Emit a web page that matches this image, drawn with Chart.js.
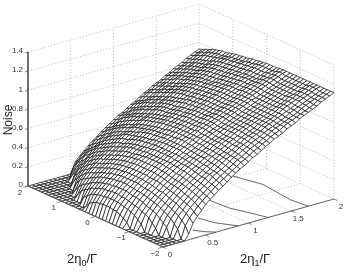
<!DOCTYPE html>
<html>
<head>
<meta charset="utf-8">
<script src="https://cdn.jsdelivr.net/npm/chart.js@4/dist/chart.umd.min.js"></script>
<style>
  html, body { margin: 0; padding: 0; background: #fff; }
  canvas { display: block; }
</style>
</head>
<body>
<canvas id="plot" width="346" height="275"></canvas>
<script>
// values
const zTicks = [0, 0.2, 0.4, 0.6, 0.8, 1, 1.2, 1.4]
const eta0Ticks = [2, 1, 0, -1, -2]
const eta1Ticks = [0, 0.5, 1, 1.5, 2]
const eta0Rows = [2,1.9,1.8,1.7,1.6,1.5,1.4,1.3,1.2,1.1,1,.9,.8,.7,.6,.5,.4,.3,.2,.1,0,-.1,-.2,-.3,-.4,-.5,-.6,-.7,-.8,-.9,-1,-1.1,-1.2,-1.3,-1.4,-1.5,-1.6,-1.7,-1.8,-1.9,-2]
const eta1Cols = [0,.05,.1,.15,.2,.25,.3,.35,.4,.45,.5,.55,.6,.65,.7,.75,.8,.85,.9,.95,1,1.05,1.1,1.15,1.2,1.25,1.3,1.35,1.4,1.45,1.5,1.55,1.6,1.65,1.7,1.75,1.8,1.85,1.9,1.95,2]
// noise x100, one line for each eta0
const noiseRows = [
[0,0,0,0,0,0,0,0,0,0,0,11,16,20,24,28,31,35,38,41,44,47,49,52,55,57,60,63,65,68,70,72,75,77,80,82,84,87,89,91,93],
[0,0,0,0,0,0,0,0,0,0,10,15,20,23,27,31,34,37,40,43,46,49,51,54,57,59,62,65,67,70,72,74,77,79,81,83,85,88,90,92,94],
[0,0,0,0,0,0,0,0,0,8,15,19,23,26,30,33,36,40,42,45,48,51,53,56,59,61,64,67,69,71,73,76,78,80,83,85,87,89,92,94,96],
[0,0,0,0,0,0,0,0,6,13,18,23,26,29,32,36,39,42,45,48,51,53,56,58,61,63,65,68,70,73,75,77,80,82,84,86,88,91,93,95,97],
[0,0,0,0,0,0,0,0,11,17,21,25,29,32,35,38,41,45,47,50,53,55,58,60,63,65,67,70,72,74,76,79,81,83,86,88,90,92,95,97,99],
[0,0,0,0,0,0,0,10,16,20,25,28,32,35,38,41,44,47,49,52,55,57,60,62,65,67,69,72,74,76,78,81,83,85,87,89,91,93,96,98,100],
[0,0,0,0,0,0,7,14,19,24,27,31,34,37,40,43,46,49,51,54,57,59,62,64,66,68,70,73,75,77,79,82,84,86,88,90,92,94,97,99,101],
[0,0,0,0,0,0,12,18,22,26,30,33,36,39,42,45,48,51,53,56,58,60,63,65,68,70,72,75,77,79,81,83,85,87,89,91,93,95,98,100,102],
[0,0,0,0,0,9,16,21,25,29,32,35,38,41,44,47,49,52,54,57,60,62,65,67,69,71,73,76,78,80,82,85,87,89,91,93,95,97,99,100,102],
[0,0,0,0,5,14,19,23,27,31,34,37,40,43,46,49,51,54,56,59,61,63,66,68,71,73,75,78,80,82,84,86,88,90,92,94,96,98,100,101,103],
[0,0,0,0,10,17,22,26,30,33,36,39,42,45,48,51,53,56,58,61,63,65,68,70,72,74,76,79,81,83,85,87,89,91,93,95,97,99,101,102,104],
[0,0,0,5,14,19,24,28,31,34,37,40,43,46,49,52,54,57,59,62,64,66,69,71,73,75,77,80,82,84,86,88,90,92,94,96,98,100,102,103,105],
[0,0,0,10,16,21,25,29,32,36,39,42,45,47,50,53,55,58,60,63,65,67,70,72,74,76,78,81,83,85,87,89,90,92,94,96,98,100,102,103,105],
[0,0,0,13,18,23,27,31,34,37,40,43,46,49,52,54,57,59,61,64,66,68,70,72,74,77,79,81,83,85,87,89,91,93,95,97,99,101,103,104,106],
[0,0,8,15,21,25,29,32,36,39,42,45,48,50,53,55,58,60,62,65,67,69,71,73,75,78,80,82,84,86,88,90,91,93,95,97,99,101,103,104,106],
[0,0,11,18,22,27,30,34,37,40,43,46,49,51,54,56,59,61,63,66,68,70,72,74,76,79,81,83,85,87,89,91,92,94,96,98,100,102,104,105,107],
[0,3,14,19,24,28,31,35,38,41,44,47,50,52,55,57,60,62,64,67,69,71,73,75,77,79,81,83,85,87,89,91,93,95,97,99,100,102,104,106,108],
[0,8,16,21,25,29,33,36,39,42,45,47,50,52,55,57,60,62,64,67,69,71,73,75,77,80,82,84,86,88,90,92,93,95,97,99,101,103,105,106,108],
[0,10,17,22,26,30,33,37,40,43,46,48,51,53,56,58,61,63,65,68,70,72,74,76,78,80,82,84,86,88,90,92,94,96,98,100,101,103,105,107,109],
[0,12,18,23,27,31,34,37,40,43,46,49,51,54,56,59,61,63,66,68,70,72,75,77,79,81,83,85,87,89,91,93,95,96,98,100,102,104,106,108,109],
[0,12,18,23,27,31,35,38,41,44,47,49,52,54,57,59,62,64,66,69,71,73,75,77,79,81,83,85,87,89,91,93,95,97,99,101,102,104,106,108,110],
[0,13,19,24,28,32,35,38,41,44,47,50,52,55,57,60,62,64,67,69,71,73,75,77,79,81,83,85,87,89,91,93,95,97,99,101,102,104,106,108,110],
[0,13,19,24,28,32,35,38,41,44,47,50,52,55,57,60,62,64,67,69,71,73,75,77,79,81,83,85,87,89,91,93,95,97,99,101,102,104,106,108,110],
[0,13,19,24,28,32,35,38,41,44,47,50,52,55,57,60,62,65,67,69,71,73,75,78,80,81,83,85,87,89,91,93,96,98,100,101,103,105,107,108,110],
[0,12,19,23,28,31,35,38,41,44,47,50,52,55,57,60,62,65,67,69,71,74,76,78,80,82,84,86,88,90,92,94,96,98,100,102,104,105,107,109,111],
[0,12,18,23,27,31,35,38,41,44,47,50,52,55,57,60,62,65,67,69,72,74,76,78,80,82,84,86,88,90,92,94,96,98,100,102,104,106,108,110,111],
[0,10,17,22,26,30,34,37,40,44,47,50,52,55,57,60,62,64,67,69,71,74,76,78,80,82,84,86,88,90,92,94,96,98,100,102,104,106,108,110,111],
[0,8,16,21,26,30,33,37,40,43,46,49,52,54,57,59,62,64,66,69,71,73,75,77,79,82,84,86,88,90,92,94,95,97,99,101,103,105,107,109,111],
[0,5,15,20,25,29,33,36,40,43,46,49,51,54,56,59,61,63,66,68,71,73,75,77,79,81,83,85,87,89,91,93,95,97,99,101,103,105,107,109,111],
[0,0,13,19,24,28,32,35,39,42,45,48,51,53,56,58,61,63,66,68,70,72,75,77,79,81,83,85,87,89,91,93,95,97,99,101,103,105,107,109,111],
[0,0,10,17,22,27,31,34,38,41,44,47,50,53,55,58,60,63,65,68,70,72,74,77,79,81,83,85,87,89,91,93,95,97,99,101,103,105,107,109,111],
[0,0,7,16,21,26,30,34,37,40,43,47,50,53,55,58,60,63,65,68,70,72,74,77,79,81,83,85,87,89,91,93,95,97,99,101,103,105,107,109,111],
[0,0,0,14,20,25,29,33,36,40,43,46,49,52,54,57,60,62,65,67,70,72,74,77,79,81,83,85,87,89,91,93,95,97,99,101,103,105,107,109,111],
[0,0,0,10,18,23,27,31,35,39,42,45,48,51,54,56,59,62,64,67,69,72,74,76,79,81,83,85,87,89,91,93,95,97,99,102,103,105,107,109,111],
[0,0,0,6,15,21,26,30,34,38,41,44,47,50,53,56,58,61,64,66,69,71,73,76,78,80,82,85,87,89,91,93,96,98,100,102,104,106,108,110,111],
[0,0,0,0,12,19,24,29,33,36,40,43,46,49,52,55,58,61,63,66,68,71,73,76,78,80,82,85,87,89,91,93,96,98,100,102,104,106,108,110,111],
[0,0,0,0,9,17,22,27,31,35,39,42,45,49,52,54,57,60,63,65,68,71,73,75,78,80,82,85,87,89,91,93,95,97,99,102,104,106,108,110,111],
[0,0,0,0,0,13,20,25,30,34,37,41,44,47,51,54,56,59,62,65,67,70,72,75,77,79,82,84,86,88,90,92,95,97,99,101,103,105,107,109,111],
[0,0,0,0,0,9,17,23,28,32,36,39,43,46,49,52,55,58,61,64,66,69,72,74,76,79,81,84,86,88,90,92,94,96,99,101,103,105,107,109,111],
[0,0,0,0,0,0,13,20,25,30,34,38,41,45,48,51,54,57,60,63,65,68,71,73,76,78,81,83,85,88,90,92,94,96,98,100,102,105,107,109,111],
[0,0,0,0,0,0,6,16,22,27,32,36,39,43,46,49,53,56,59,61,64,67,69,72,75,77,80,82,84,87,89,91,94,96,98,100,102,105,107,109,111]
]
// the four curves right of the surface: eta1 and noise along the eta0 = -2 wall
const curveEta1 = [
  [0.79, 1.17, 1.49, 1.70],
  [0.53, 0.78, 1.02, 1.23],
  [0.41, 0.61, 0.88],
  [0.35, 0.48, 0.62]
]
const curveNoise = [
  [0.55, 0.36, 0.12, 0],
  [0.36, 0.21, 0.10, 0],
  [0.20, 0.10, 0],
  [0.09, 0.04, 0]
]

const proj = (eta0, eta1, z) => ({
    x: 163 + 85.5 * eta1 - 33.75 * (eta0 + 2),
    y: 247 - 24 * eta1 - 15.25 * (eta0 + 2) - 95.7 * z
})

const line = (pts, color, width, dash) => ({
    data: pts, showLine: true, pointRadius: 0, borderColor: color,
    borderWidth: width, borderDash: dash || [], fill: false, tension: 0
})

// drawn back to front, Chart.js wants that list reversed
let sets = []
const gridCol = '#a8a8a8'
const dots = [1, 2]

zTicks.forEach(z => {
    if (z == 0) return
    sets.push(line([proj(2, 0, z), proj(2, 2, z), proj(-2, 2, z)], gridCol, 0.8, dots))
})
eta1Ticks.forEach(e => {
    if (e > 0) sets.push(line([proj(-2, e, 0), proj(2, e, 0), proj(2, e, 1.4)], gridCol, 0.8, dots))
})
eta0Ticks.forEach(a => {
    if (a < 2) sets.push(line([proj(a, 0, 0), proj(a, 2, 0), proj(a, 2, 1.4)], gridCol, 0.8, dots))
})

curveEta1.forEach((c, i) => {
    sets.push(line(c.map((e, k) => proj(-2, e, curveNoise[i][k])), '#555', 0.9))
})

// mesh, one filled quad per cell
for (let r = 0; r < eta0Rows.length - 1; r++) {
    for (let c = eta1Cols.length - 2; c >= 0; c--) {
        const a0 = eta0Rows[r], a1 = eta0Rows[r + 1], e0 = eta1Cols[c], e1 = eta1Cols[c + 1]
        const q = [
            proj(a0, e0, noiseRows[r][c] / 100),
            proj(a0, e1, noiseRows[r][c + 1] / 100),
            proj(a1, e1, noiseRows[r + 1][c + 1] / 100),
            proj(a1, e0, noiseRows[r + 1][c] / 100)
        ]
        q.push(q[0])
        const ds = line(q, '#111', 0.7)
        ds.fill = 'shape'
        ds.backgroundColor = '#fff'
        sets.push(ds)
    }
}

// box axes
sets.push(line([proj(2, 0, 1.4), proj(2, 0, 0), proj(-2, 0, 0), proj(-2, 2, 0)], '#555', 0.9))
zTicks.forEach(z => {
    const p = proj(2, 0, z)
    sets.push(line([p, { x: p.x - 3, y: p.y + 0.8 }], '#555', 0.7))
})
eta0Ticks.forEach(a => {
    const p = proj(a, 0, 0)
    sets.push(line([p, { x: p.x - 5, y: p.y + 1.4 }], '#555', 0.7))
})
eta1Ticks.forEach(e => {
    const p = proj(-2, e, 0)
    sets.push(line([p, { x: p.x + 3.4, y: p.y + 1.5 }], '#555', 0.7))
})

const labels = {
    id: 'labels',
    afterDraw(chart) {
        const ctx = chart.ctx
        ctx.save()
        ctx.fillStyle = '#333'
        ctx.textBaseline = 'middle'
        ctx.font = '8px "Liberation Sans"'
        ctx.textAlign = 'right'
        zTicks.forEach(z => {
            const p = proj(2, 0, z)
            ctx.fillText(String(z), p.x - 5, p.y - 1)
        })
        ctx.textAlign = 'center'
        eta0Ticks.forEach(a => {
            const p = proj(a, 0, 0)
            ctx.fillText(String(a).replace('-', '\u2212'), p.x - 8, p.y + 6.5)
        })
        eta1Ticks.forEach(e => {
            const p = proj(-2, e, 0)
            ctx.fillText(String(e), p.x + 7, p.y + 7.5)
        })
        ctx.fillStyle = '#222'
        const axisLabel = (x, sub) => {
            ctx.textAlign = 'left'
            ctx.textBaseline = 'alphabetic'
            ctx.font = '13px "Liberation Sans"'
            ctx.fillText('2\u03b7', x, 263)
            let w = ctx.measureText('2\u03b7').width
            ctx.font = '9px "Liberation Sans"'
            ctx.fillText(sub, x + w, 266)
            w += ctx.measureText(sub).width
            ctx.font = '13px "Liberation Sans"'
            ctx.fillText('/\u0393', x + w, 263)
        }
        axisLabel(67, '0')
        axisLabel(240, '1')
        ctx.translate(12, 120)
        ctx.rotate(-Math.PI / 2)
        ctx.textAlign = 'center'
        ctx.font = '12px "Liberation Sans"'
        ctx.fillText('Noise', 0, 0)
        ctx.restore()
    }
}

new Chart(document.getElementById('plot').getContext('2d'), {
    type: 'scatter',
    data: { datasets: sets.reverse() },
    options: {
        responsive: false,
        animation: false,
        events: [],
        layout: { padding: 0 },
        plugins: { legend: { display: false }, tooltip: { enabled: false } },
        scales: {
            x: { type: 'linear', min: 0, max: 346, display: false },
            y: { type: 'linear', min: 0, max: 275, reverse: true, display: false }
        }
    },
    plugins: [labels]
})
</script>
</body>
</html>
